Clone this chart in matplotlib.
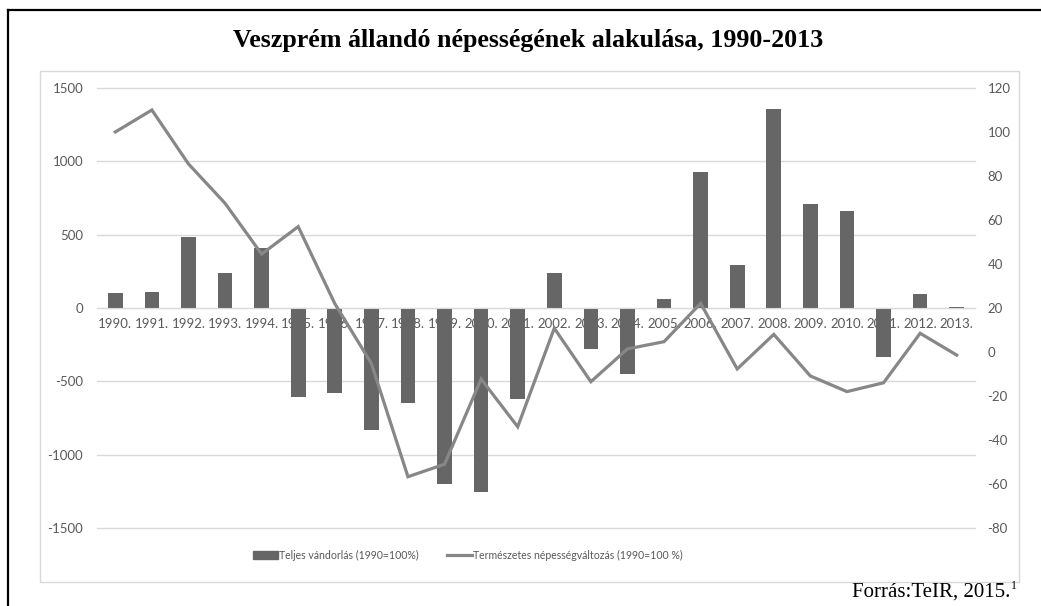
import matplotlib
matplotlib.use("Agg")
import matplotlib.pyplot as plt
from matplotlib.patches import Rectangle
from matplotlib.lines import Line2D
import numpy as np

years = ["1990.", "1991.", "1992.", "1993.", "1994.", "1995.", "1996.", "1997.",
         "1998.", "1999.", "2000.", "2001.", "2002.", "2003.", "2004.", "2005.",
         "2006.", "2007.", "2008.", "2009.", "2010.", "2011.", "2012.", "2013."]
migration = [100, 111, 484, 236, 407, -609, -582, -832, -648, -1200, -1255, -620,
             236, -280, -452, 64, 926, 291, 1355, 709, 659, -331, 93, 4]
natural = [100, 110, 85.5, 67.6, 44.5, 57, 22, -5.2, -56.7, -51, -12.3, -34,
           10.8, -13.5, 1.4, 4.7, 22.1, -7.7, 8, -10.9, -18, -14, 8.5, -1.4]
left_ticks = [-1500, -1000, -500, 0, 500, 1000, 1500]
right_ticks = [-80, -60, -40, -20, 0, 20, 40, 60, 80, 100, 120]
title = "Veszprém állandó népességének alakulása, 1990-2013"
bar_label = "Teljes vándorlás (1990=100%)"
line_label = "Természetes népességváltozás (1990=100 %)"
source = "Forrás:TeIR, 2015."
source_sup = "1"

W, H = 1041, 606
fig = plt.figure(figsize=(W / 100, H / 100), dpi=100)
fig.patch.set_facecolor("white")

SANS = ["Lato", "DejaVu Sans"]
SERIF = ["Liberation Serif", "DejaVu Serif"]
TICK_C = "#595959"
GRID_C = "#d9d9d9"
BAR_C = "#666666"
LINE_C = "#878787"

def fx(px):
    return px / W

def fy(py):
    return 1 - py / H

# outer black frame (left and top edges visible)
fig.add_artist(Line2D([fx(8), fx(8)], [fy(10), fy(606)], color="black", lw=1.6,
                      transform=fig.transFigure))
fig.add_artist(Line2D([fx(8), fx(1041)], [fy(10), fy(10)], color="black", lw=1.6,
                      transform=fig.transFigure))
# light chart-area box
fig.add_artist(Rectangle((fx(40), fy(582)), fx(1019) - fx(40), fy(71) - fy(582),
                         transform=fig.transFigure, fill=False, edgecolor=GRID_C, lw=1))

ax = fig.add_axes([fx(97), fy(528), fx(975) - fx(97), fy(88) - fy(528)])
x = np.arange(len(years))
ax.bar(x, migration, width=0.4, color=BAR_C, zorder=2)
ax.set_xlim(-0.5, len(years) - 0.5)
ax.set_ylim(-1500, 1500)
ax.set_yticks(left_ticks)
ax.set_yticklabels([str(t) for t in left_ticks])
ax.set_xticks(x)
ax.set_xticklabels(years)
ax.grid(axis="y", color=GRID_C, lw=1)
for gl in ax.get_ygridlines():
    gl.set_clip_on(False)
ax.set_axisbelow("line")
for s in ["top", "right", "left"]:
    ax.spines[s].set_visible(False)
ax.spines["bottom"].set_position(("data", 0))
ax.spines["bottom"].set_color(GRID_C)
ax.tick_params(axis="x", length=0, pad=7, labelsize=9.5, labelcolor=TICK_C)
ax.tick_params(axis="y", length=0, pad=10, labelsize=9.5, labelcolor=TICK_C)
for lab in ax.get_xticklabels() + ax.get_yticklabels():
    lab.set_family(SANS)
ax.patch.set_alpha(0)

ax2 = ax.twinx()
ax2.plot(x, natural, color=LINE_C, lw=2.3, zorder=3, solid_joinstyle="miter")
ax2.set_ylim(-80, 120)
ax2.set_yticks(right_ticks)
ax2.set_yticklabels([str(t) for t in right_ticks])
for s in ax2.spines.values():
    s.set_visible(False)
ax2.tick_params(axis="y", length=0, pad=9, labelsize=9.5, labelcolor=TICK_C)
for lab in ax2.get_yticklabels():
    lab.set_family(SANS)

fig.text(fx(528), fy(40), title, ha="center", va="center", fontsize=18.7,
         fontweight="bold", family=SERIF)

handles = [Rectangle((0, 0), 1, 1, color=BAR_C),
           Line2D([0], [0], color=LINE_C, lw=2.3)]
leg = fig.legend(handles, [bar_label, line_label], loc="center left",
                 bbox_to_anchor=(fx(253), fy(555)), ncol=2, frameon=False,
                 prop={"family": SANS, "size": 7.6}, handlelength=2.4,
                 handleheight=0.7, handletextpad=0.1, columnspacing=2.6,
                 borderpad=0, borderaxespad=0)
for t in leg.get_texts():
    t.set_color(TICK_C)

fig.text(fx(1010), fy(597), source, ha="right", va="baseline", fontsize=15,
         family=SERIF)
fig.text(fx(1011), fy(589), source_sup, ha="left", va="baseline", fontsize=8.5,
         family=SERIF)

fig.savefig("out.png", dpi=100)
